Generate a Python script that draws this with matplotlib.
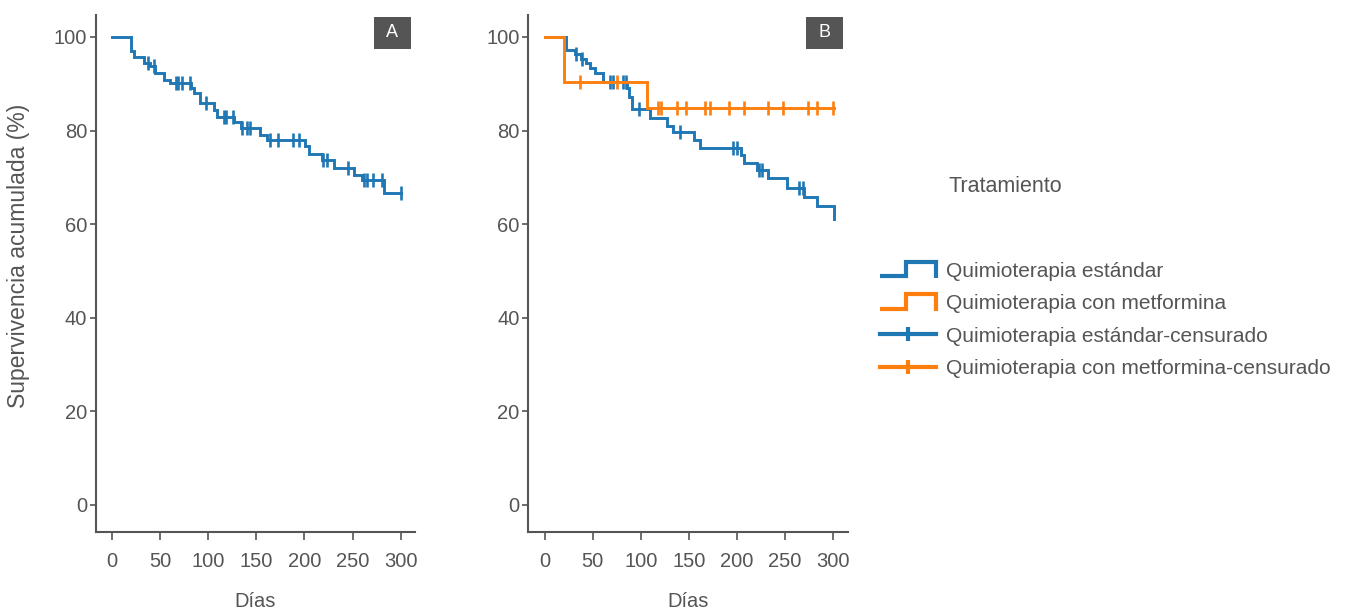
"""
Kaplan-Meier curves: overall survival (A) and by treatment arm (B)
"""

import numpy as np
import matplotlib
matplotlib.use("Agg")
import matplotlib.pyplot as plt
from matplotlib.lines import Line2D
from matplotlib.patches import Rectangle
from matplotlib.legend_handler import HandlerBase

plt.rcParams['font.family'] = ['Liberation Sans', 'DejaVu Sans']

BLUE = '#1f77b4'
ORANGE = '#ff7f0e'
GREY = '#555555'
FS = 14.5

# Panel A - all patients
a_event_days = [19.5, 22.3, 33.4, 39.7, 44.9, 53.6, 60.6, 82.2, 85.0, 90.9, 105.9, 109.4,
                126.8, 134.4, 153.6, 160.6, 200.6, 205.2, 218.1, 230.3, 251.2, 259.9, 282.5]
a_event_surv = [96.9, 95.8, 94.5, 93.7, 92.2, 90.8, 90.2, 89.0, 88.1, 85.8, 84.3, 83.0,
                81.9, 80.5, 79.1, 77.9, 76.6, 74.9, 73.7, 71.9, 70.5, 69.4, 66.6]
a_censor_days = [36.9, 43.9, 66.5, 69.0, 72.5, 81.0, 97.9, 116.0, 118.8, 125.7, 135.5, 140.3,
                 143.9, 164.0, 172.8, 188.4, 194.3, 219.8, 223.3, 244.8, 261.6, 265.1, 271.0,
                 280.8, 300.0]
a_end_day = 300.0

# Panel B - standard chemotherapy
std_event_days = [21.9, 31.3, 38.2, 42.8, 47.0, 52.0, 60.6, 85.3, 87.5, 90.5, 109.7, 127.1,
                  134.0, 155.0, 162.0, 204.5, 207.3, 221.2, 232.3, 252.5, 270.0, 283.2, 301.0]
std_event_surv = [97.2, 96.3, 95.2, 94.5, 93.3, 92.2, 90.4, 89.0, 87.2, 84.6, 82.6, 81.0,
                  79.6, 78.0, 76.2, 74.8, 73.1, 71.6, 69.8, 67.7, 65.7, 63.9, 61.0]
std_censor_days = [33.0, 38.5, 67.9, 70.7, 81.8, 84.6, 98.5, 141.1, 195.7, 200.2, 222.9,
                   226.4, 264.7, 268.2]
std_end_day = 301.0

# Panel B - chemotherapy with metformin
met_event_days = [19.9, 106.9]
met_event_surv = [90.3, 84.9]
met_censor_days = [36.6, 75.6, 118.4, 121.2, 137.7, 147.1, 166.3, 172.4, 191.5, 207.2,
                   232.6, 248.0, 273.4, 283.2, 300.0]
met_end_day = 301.0

legend_labels = ['Quimioterapia estándar', 'Quimioterapia con metformina',
                 'Quimioterapia estándar-censurado', 'Quimioterapia con metformina-censurado']


def km_plot(ax, days, surv, censors, end_day, color):
    xs = [0] + list(days)
    ys = [100] + list(surv)
    if end_day > xs[-1]:
        xs.append(end_day)
        ys.append(ys[-1])
    ax.step(xs, ys, where='post', color=color, lw=2.1, solid_joinstyle='miter')
    idx = np.searchsorted(days, censors, side='right')
    levels = np.array([100] + list(surv))[idx]
    ax.plot(censors, levels, ls='none', marker='|', ms=9.5, mew=1.9, color=color)


def style_axes(ax, tag):
    ax.set_xlim(-17.3, 315.5)
    ax.set_ylim(-5.8, 104.7)
    ax.set_xticks(range(0, 301, 50))
    ax.set_yticks(range(0, 101, 20))
    for side in ('top', 'right'):
        ax.spines[side].set_visible(False)
    for side in ('left', 'bottom'):
        ax.spines[side].set_color(GREY)
        ax.spines[side].set_linewidth(1.5)
    ax.tick_params(axis='y', length=4, width=1.2, color=GREY, labelcolor=GREY,
                   labelsize=FS, pad=2)
    ax.tick_params(axis='x', length=5.5, width=1.2, color=GREY, labelcolor=GREY,
                   labelsize=FS, pad=9)
    ax.set_xlabel('Días', color=GREY, fontsize=FS, labelpad=15)
    ax.add_patch(Rectangle((0.869, 0.935), 0.116, 0.062, transform=ax.transAxes,
                           facecolor=GREY, edgecolor='none', clip_on=False, zorder=5))
    ax.text(0.927, 0.966, tag, transform=ax.transAxes, ha='center', va='center',
            color='white', fontsize=13, zorder=6)


class StepHandler(HandlerBase):
    def create_artists(self, legend, orig_handle, xdescent, ydescent, width, height,
                       fontsize, trans):
        xs = np.array([0.0, 0.47, 0.47, 1.0, 1.0]) * width - xdescent
        ys = np.array([0.05, 0.05, 1.05, 1.05, -0.1]) * height - ydescent
        line = Line2D(xs, ys, color=orig_handle.get_color(), lw=3.0,
                      solid_joinstyle='miter', solid_capstyle='butt')
        line.set_transform(trans)
        return [line]


fig = plt.figure(figsize=(13.47, 6.11), dpi=100)
W, H = 1347.0, 611.0
ax_a = fig.add_axes([95.5 / W, 1 - 532 / H, 320 / W, (532 - 15) / H])
ax_b = fig.add_axes([528 / W, 1 - 532 / H, 320 / W, (532 - 15) / H])

km_plot(ax_a, a_event_days, a_event_surv, a_censor_days, a_end_day, BLUE)
km_plot(ax_b, std_event_days, std_event_surv, std_censor_days, std_end_day, BLUE)
km_plot(ax_b, met_event_days, met_event_surv, met_censor_days, met_end_day, ORANGE)

style_axes(ax_a, 'A')
style_axes(ax_b, 'B')
ax_a.set_ylabel('Supervivencia acumulada (%)', color=GREY, fontsize=16.5)
ax_a.yaxis.set_label_coords(-0.205, 0.534)

handles = [Line2D([], [], color=BLUE), Line2D([], [], color=ORANGE),
           Line2D([], [], color=BLUE, lw=3.0, marker='|', ms=10, mew=3),
           Line2D([], [], color=ORANGE, lw=3.0, marker='|', ms=10, mew=3)]
leg = fig.legend(handles, legend_labels, loc='upper left',
                 bbox_to_anchor=(880 / W, 1 - 262 / H), frameon=False, fontsize=15,
                 borderpad=0, borderaxespad=0, handlelength=2.7, handletextpad=0.45,
                 labelspacing=0.64, numpoints=1,
                 handler_map={handles[0]: StepHandler(), handles[1]: StepHandler()})
for t in leg.get_texts():
    t.set_color(GREY)
fig.text(948 / W, 1 - 186 / H, 'Tratamiento', ha='left', va='center', color=GREY,
         fontsize=15.5)

fig.savefig('out.png', dpi=100)
